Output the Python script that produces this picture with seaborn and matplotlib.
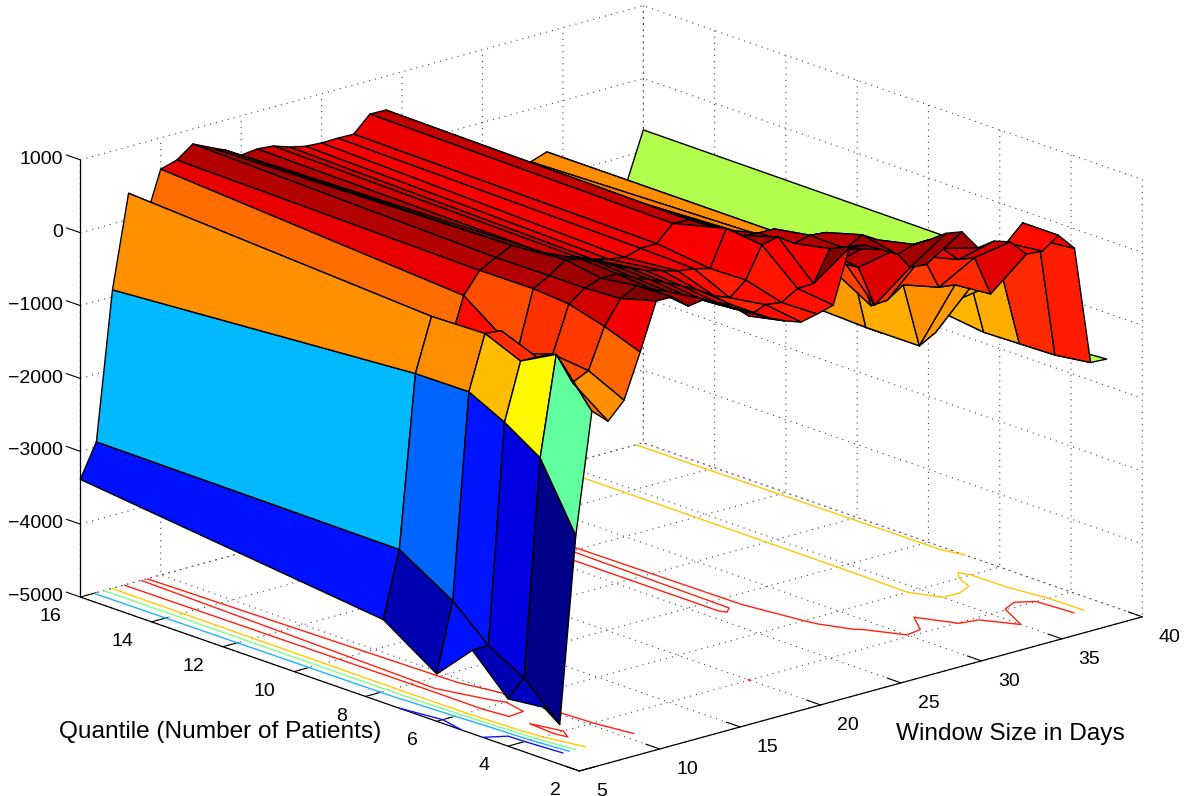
import numpy as np
import seaborn as sns
import matplotlib.pyplot as plt
from matplotlib.colors import Normalize
from mpl_toolkits.mplot3d import proj3d

# window size in days (columns) and quantile (rows)
window = list(range(5, 41))
quantile = [3, 4, 5, 6, 7.5, 16]

# one list per quantile, window 5 to 40
z_q3 = [-4296, -4593, -2060, -412, -612, -384, 216, 858, 851, 666, 699, 556, 437, 321, 203, 100, 23, 73,
        134, 858, 837, 716, 589, 666, 672, 697, 658, 379, 410, 338, 110, 89, 247, 9, -1620, -1633]
z_q4 = [-4351, -4124, -1164, 196, -253, -149, 396, 720, 837, 727, 630, 524, 410, 300, 203, -3, 92, 61,
        192, 198, 619, 557, 688, 557, 357, 60, 40, 198, -14, -48, -607, 34, 246, -50, -1688, -1668]
z_q5 = [-3855, -3848, -846, -67, -73, -94, 534, 692, 768, 768, 658, 570, 465, 360, 244, 106, 15, 198,
        619, 668, 520, 571, 548, 120, -50, -630, -200, -50, -138, -625, -653, -738, -805, -763, -1702, -1674]
z_q6 = [-4351, -3406, -598, 140, 120, -250, 575, 692, 851, 796, 700, 589, 492, 400, 340, 272, 244, 185,
        675, 516, 492, 488, 288, -60, -100, -97, -194, -929, -915, -763, -1660, -1540, -1184, -805, -1716, -1500]
z_q75 = [-3860, -2958, -604, 120, -427, 285, 568, 686, 790, 658, 570, 423, 392, 300, 240, 203, 267, 272,
         488, 479, 300, -60, 60, -150, -250, -300, -400, -500, -600, -650, -1663, -1800, -1900, -1900, -1620, -720]
z_q16 = [-3385, -2930, -905, 360, -100, 570, 635, 795, 690, 590, 460, 485, 465, 390, 340, 325, 330, 325,
         540, 535, 330, -60, 10, -150, -300, -430, -560, -700, -720, -644, -1500, -1550, -1600, -1550, -1345, -705]

contour_levels = [-4000, -3000, -2000, -1000, 0]
contour_colors = ['#1010ff', '#20b0ff', '#80ff80', '#ffc800', '#ff2010']
window_ticks = [5, 10, 15, 20, 25, 30, 35, 40]
quantile_ticks = [2, 4, 6, 8, 10, 12, 14, 16]
z_ticks = [-5000, -4000, -3000, -2000, -1000, 0, 1000]

W_PX, H_PX = 1186, 796

sns.set_style("white")
plt.rcParams['font.family'] = ['Liberation Sans', 'DejaVu Sans']
plt.rcParams['text.color'] = 'black'

# seaborn refuses the name "jet", so blend it from the eight-step anchors the old MATLAB map uses
jet = sns.blend_palette([(0, 0, 0.5), (0, 0, 1), (0, 0.5, 1), (0, 1, 1), (0.5, 1, 0.5),
                         (1, 1, 0), (1, 0.5, 0), (1, 0, 0), (0.5, 0, 0)], as_cmap=True)
norm = Normalize(vmin=-4650, vmax=860)

X, Y = np.meshgrid(window, quantile)
Z = np.array([z_q3, z_q4, z_q5, z_q6, z_q75, z_q16], dtype=float)

fig = plt.figure(figsize=(W_PX / 100, H_PX / 100), dpi=100)
ax = fig.add_axes([0, 0, 1, 1], projection='3d', proj_type='ortho', computed_zorder=False)
ax.set_xlim(5, 40)
ax.set_ylim(2, 16)
ax.set_zlim(-5000, 1000)
ax.view_init(elev=18.0, azim=-131.55)
ax.set_box_aspect((1, 1, 0.611))


def to_pixels(x, y, z):
    xs, ys, _ = proj3d.proj_transform(x, y, z, ax.get_proj())
    return ax.transData.transform((xs, ys))


# scale and move the box so its floor corners land where they are in the picture
ax.apply_aspect()
span = to_pixels(40, 2, -5000)[0] - to_pixels(5, 16, -5000)[0]
pos = ax.get_position()
scale = (1142 - 80) / span
ax.set_position([pos.x0, pos.y0, pos.width * scale, pos.height * scale])
ax.apply_aspect()
front = to_pixels(5, 2, -5000)
pos = ax.get_position()
ax.set_position([pos.x0 + (579.3 - front[0]) / W_PX, pos.y0 + (H_PX - 771 - front[1]) / H_PX,
                 pos.width, pos.height])
ax.apply_aspect()

ax.contour(X, Y, Z, levels=contour_levels, zdir='z', offset=-5000, colors=contour_colors,
           linewidths=1.0, zorder=1)

surf = ax.plot_surface(X, Y, Z, rstride=1, cstride=1, facecolors=jet(norm(Z)), shade=False,
                       linewidth=1.0, antialiased=True, zorder=2)
surf.set_edgecolor('black')

ax.set_xticks(window_ticks)
ax.set_yticks(quantile_ticks)
ax.set_zticks(z_ticks)
ax.tick_params(labelsize=14, colors='black')
ax.tick_params(axis='x', pad=6)
ax.tick_params(axis='y', pad=6)
ax.tick_params(axis='z', pad=-1)

# z ticks lean back along the quantile direction
ax.zaxis._get_tickdir = lambda *args: 1

for axis in (ax.xaxis, ax.yaxis, ax.zaxis):
    axis.pane.set_fill(False)
    axis.pane.set_edgecolor('none')
    axis.line.set_color('black')
    axis.line.set_linewidth(0.9)
    axis._axinfo['grid'].update(color='#444444', linewidth=0.8, linestyle=(0, (1, 4.5)))
    axis._axinfo['tick'].update(inward_factor=0.0, outward_factor=0.35)

for label in ax.xaxis.get_ticklabels():
    label.set_ha('left')
    label.set_va('center')
for label in ax.yaxis.get_ticklabels():
    label.set_ha('right')
    label.set_va('center')
for label in ax.zaxis.get_ticklabels():
    label.set_ha('right')
    label.set_va('center')

fig.text(59 / W_PX, 1 - 732 / H_PX, "Quantile (Number of Patients)", fontsize=17.6, va='center')
fig.text(896 / W_PX, 1 - 734 / H_PX, "Window Size in Days", fontsize=17.6, va='center')

fig.savefig("out.png", dpi=100)
